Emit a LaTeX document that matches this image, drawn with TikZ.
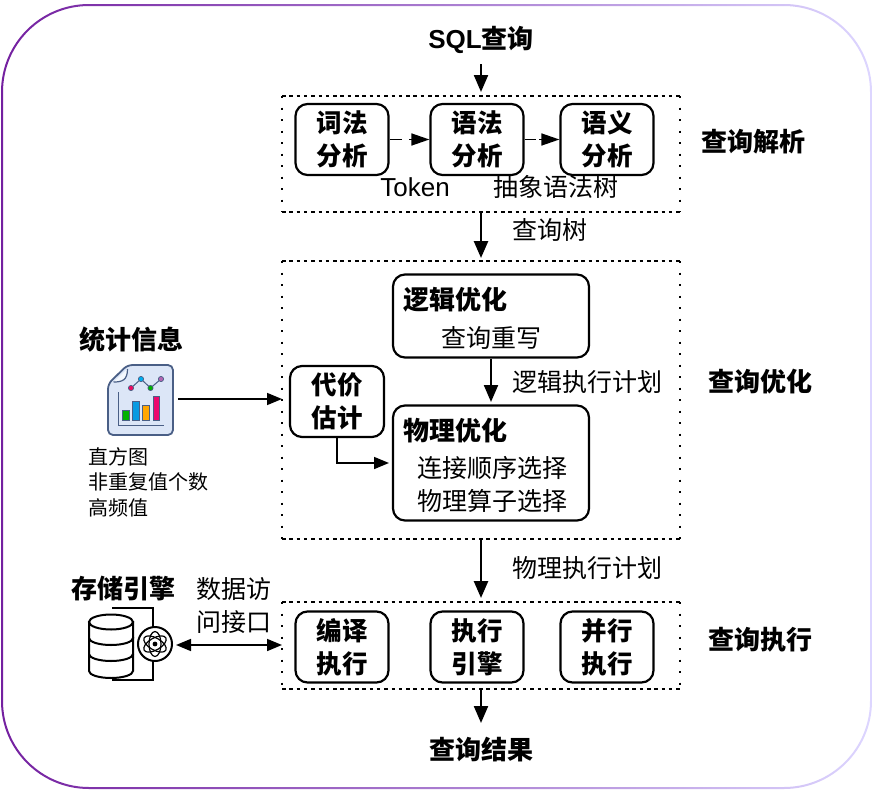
\documentclass[tikz,border=0pt]{standalone}
\usepackage{fontspec}
\setmainfont{Liberation Sans}
\newfontfamily\cjk{Noto Sans CJK SC}
\usetikzlibrary{arrows.meta,calc}
\definecolor{iconblue}{HTML}{DCE6F7}
\definecolor{iconedge}{HTML}{4A5F86}
\definecolor{framea}{HTML}{7420A0}
\definecolor{framem}{HTML}{A884E6}
\definecolor{frameb}{HTML}{DDD6FF}
\tikzset{
  x=1pt,y=-1pt,
  bigtip/.style={-{Triangle[length=17pt,width=14pt]}},
  smalltip/.style={-{Triangle[length=15pt,width=12pt]}},
  conn/.style={draw=black,line width=2.2pt,bigtip},
  thinconn/.style={draw=black,line width=1.6pt,smalltip},
  stagerule/.style={draw=black,line width=1.7pt,dash pattern=on 3.5pt off 3.8pt},
  stagedots/.style={draw=black,line width=2.4pt,dash pattern=on 2.4pt off 9.1pt},
  stepbox/.style={draw=black,line width=2.2pt,rounded corners=12pt,fill=white},
  boxtext/.style={font=\cjk\bfseries\fontsize{25.5}{33}\selectfont,align=center,inner sep=0pt},
  headtext/.style={font=\cjk\bfseries\fontsize{26}{28}\selectfont,inner sep=0pt},
  plaintext/.style={font=\cjk\fontsize{25}{33}\selectfont,inner sep=0pt,align=center},
  smalltext/.style={font=\cjk\fontsize{20}{25.5}\selectfont,inner sep=0pt,align=left},
}
% dashed stage frame: short dashes along the top and bottom, dots down the sides
\newcommand{\stageframe}[4]{%
  \path[stagerule] (#1,#2) -- (#3,#2) (#1,#4) -- (#3,#4);
  \path[stagedots] (#1,#2) -- (#1,#4) (#3,#2) -- (#3,#4);
}
\begin{document}
\begin{tikzpicture}
\useasboundingbox (0,0) rectangle (873,790);
% rounded outer frame with a diagonal purple fade
\shade[even odd rule,shading=axis,shading angle=49,left color=framea,middle color=framem,right color=frameb]
  [rounded corners=88pt] (1,4) rectangle (872,789)
  [rounded corners=86pt] (3,6) rectangle (870,787);

% query parsing stage
\node[headtext] (sql) at (481,40) {{\rmfamily SQL}查询};
\coordinate (sqlOut) at (481,64);
\coordinate (parseTop) at (481,92);
\stageframe{282}{96}{680}{212}
\coordinate (parseBottom) at (481,212);
\draw[conn] (sqlOut) -- (parseTop);

\node[stepbox,minimum width=93pt,minimum height=71pt] (lex) at (342,139.5) {};
\node[boxtext] at (lex) {词法\\分析};
\node[stepbox,minimum width=93pt,minimum height=71pt] (syn) at (477,139.5) {};
\node[boxtext] at (syn) {语法\\分析};
\node[stepbox,minimum width=93pt,minimum height=71pt] (sem) at (607,139.5) {};
\node[boxtext] at (sem) {语义\\分析};
\draw[thinconn,-{Triangle[length=18pt,width=12pt]}] (lex.east) -- (syn.west);
\draw[white,line width=3pt] (402,139.5) -- (409,139.5);
\draw[thinconn,-{Triangle[length=18pt,width=12pt]}] (syn.east) -- (sem.west);
\draw[white,line width=3pt] (536,139.5) -- (539,139.5);
\node[font=\fontsize{26}{28}\selectfont,inner sep=0pt] (tok) at (415,187) {Token};
\node[plaintext] (ast) at (556,187) {抽象语法树};
\node[headtext] (parseLabel) at (753,142) {查询解析};

% query optimisation stage
\stageframe{282}{261}{680}{539}
\coordinate (optTop) at (481,258);
\coordinate (optBottom) at (481,539);
\draw[conn,line width=2.6pt] (parseBottom) -- (optTop);
\node[plaintext] (treeLabel) at (550,230) {查询树};
\node[headtext] (optLabel) at (760,382) {查询优化};

\node[stepbox,minimum width=196pt,minimum height=83pt] (logic) at (491,316) {};
\node[headtext,anchor=west] (logicHead) at (403,300) {逻辑优化};
\node[plaintext] (rewrite) at (491,338) {查询重写};

\node[stepbox,minimum width=196pt,minimum height=115pt] (phys) at (491,463) {};
\node[headtext,anchor=west] (physHead) at (403,431) {物理优化};
\node[plaintext] (join) at (492,468) {连接顺序选择};
\node[plaintext] (algo) at (492,501) {物理算子选择};
\coordinate (physTop) at (491,402);
\draw[conn] (logic.south) -- (physTop);
\node[plaintext] (logicPlan) at (587,382) {逻辑执行计划};

\node[stepbox,minimum width=94pt,minimum height=71pt] (cost) at (337,401.5) {};
\node[boxtext] at (cost) {代价\\估计};
\coordinate (physIn) at (389,463);
\draw[thinconn] (cost.south) |- (physIn);

% statistics input
\node[headtext] (statsHead) at (131,340) {统计信息};
\coordinate (statsIcon) at (140.5,400);
\begin{scope}[shift={(statsIcon)}]
  \draw[iconedge,line width=1.8pt,fill=iconblue,rounded corners=5pt]
    (-13,-35) -- (32.5,-35) -- (32.5,35) -- (-32.5,35) -- (-32.5,-16) -- cycle;
  \draw[iconedge,line width=1.2pt,fill=white!70!iconblue]
    (-27,-18) .. controls (-18,-18) and (-13,-20) .. (-13,-31);
  \draw[iconedge,line width=1pt] (-22,-8) -- (-22,25) -- (23.5,25);
  \filldraw[draw=iconedge,fill=green!70!black,line width=.8pt] (-18,10.7) rectangle (-11.5,20.7);
  \filldraw[draw=iconedge,fill=cyan!85!blue,line width=.8pt] (-8,1.7) rectangle (-1.5,20.7);
  \filldraw[draw=iconedge,fill=orange!70!yellow,line width=.8pt] (2,5.7) rectangle (8.5,20.7);
  \filldraw[draw=iconedge,fill=magenta!70!red,line width=.8pt] (12.5,-4) rectangle (19,20.7);
  \draw[iconedge,line width=1pt] (-9.5,-12) -- (0.5,-21) -- (10,-12) -- (20.5,-21);
  \filldraw[draw=iconedge,fill=magenta!60!red,line width=.7pt] (-9.5,-12) circle (2.6);
  \filldraw[draw=iconedge,fill=cyan,line width=.7pt] (0.5,-21) circle (2.6);
  \filldraw[draw=iconedge,fill=green!70!black,line width=.7pt] (10,-12) circle (2.6);
  \filldraw[draw=iconedge,fill=violet!60,line width=.7pt] (20.5,-21) circle (2.6);
\end{scope}
\coordinate (statsOut) at (178,399);
\coordinate (costIn) at (282,399);
\draw[thinconn] (statsOut) -- (costIn);
\node[smalltext,anchor=west] (statsList) at (88,482) {直方图\\非重复值个数\\高频值};

% query execution stage
\stageframe{282}{602}{680}{689}
\coordinate (execTop) at (481,598);
\coordinate (execBottom) at (481,689);
\draw[conn,line width=2.6pt] (optBottom) -- (execTop);
\node[plaintext] (physPlan) at (587,568) {物理执行计划};
\node[headtext] (execLabel) at (760,640) {查询执行};

\node[stepbox,minimum width=93pt,minimum height=71pt] (jit) at (342,647) {};
\node[boxtext] at (jit) {编译\\执行};
\node[stepbox,minimum width=93pt,minimum height=71pt] (engine) at (477,647) {};
\node[boxtext] at (engine) {执行\\引擎};
\node[stepbox,minimum width=93pt,minimum height=71pt] (para) at (607,647) {};
\node[boxtext] at (para) {并行\\执行};

\node[headtext] (resultText) at (481,750) {查询结果};
\coordinate (resultIn) at (481,723);
\draw[conn] (execBottom) -- (resultIn);

% storage engine
\node[headtext] (storeHead) at (123,589) {存储引擎};
\node[plaintext] (accessLabel) at (234,606) {数据访\\问接口};
\coordinate (storeIcon) at (111,643);
\begin{scope}[shift={(storeIcon)}]
  \draw[black,line width=2pt] (1,-35) -- (42,-35) -- (42,37) -- (1,37);
  \foreach \yy in {28,11,-5}{
    \filldraw[draw=black,fill=white,line width=2pt] (-22,\yy-16) -- (-22,\yy) arc[start angle=180,end angle=0,x radius=22,y radius=7] -- (22,\yy-16) -- cycle;
  }
  \filldraw[draw=black,fill=white,line width=2pt] (0,-21) ellipse[x radius=22,y radius=7.5];
  \filldraw[draw=black,fill=white,line width=2pt] (44,1) circle (17);
  \foreach \aa in {30,90,150}{
    \draw[black,line width=1.2pt,rotate around={\aa:(44,1)}] (44,1) ellipse[x radius=12.5,y radius=6];
  }
  \fill[black] (44,1) circle (2.4);
\end{scope}
\coordinate (storeOut) at (176,645);
\coordinate (execIn) at (282,645);
\draw[thinconn,{Triangle[length=15pt,width=12pt]}-{Triangle[length=15pt,width=12pt]}] (storeOut) -- (execIn);
\end{tikzpicture}
\end{document}
